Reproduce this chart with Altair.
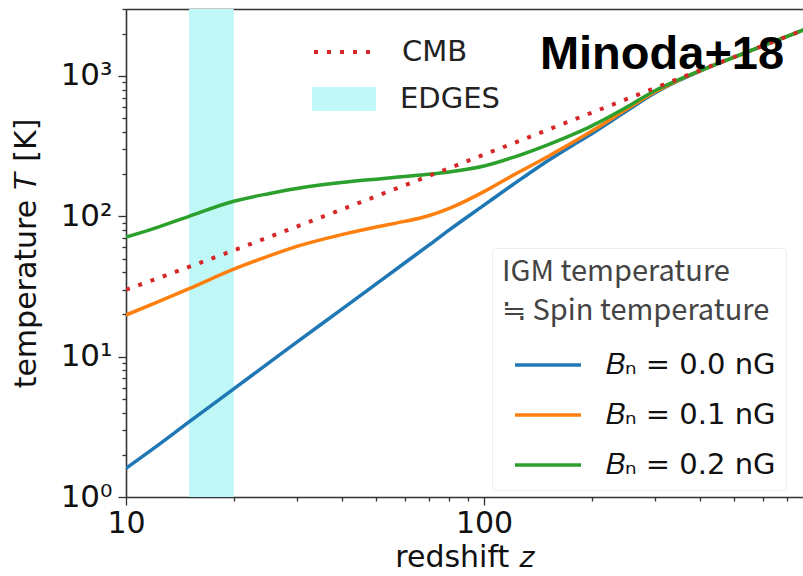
import altair as alt
import pandas as pd

# ---- data ----
z = [10, 12, 15, 20, 25, 30, 40, 50, 60, 70, 80, 100, 120, 150, 180, 200, 250, 300, 350, 400, 500, 600, 700, 800]
t_cmb = [30.0, 35.4, 43.6, 57.2, 70.9, 84.5, 111.7, 139.0, 166.2, 193.5, 220.7, 275.2, 329.7, 411.5,
         493.2, 547.7, 684.0, 820.2, 956.5, 1092.7, 1365.2, 1637.7, 1910.2, 2182.7]
t_b00 = [1.6, 2.24, 3.43, 5.9, 9.0, 12.7, 21.7, 33.0, 46.5, 62, 80, 120, 167, 247, 330, 388, 562, 755,
         928, 1080, 1363, 1636, 1908, 2180]
t_b01 = [19.8, 24, 30.5, 42, 52, 61, 74, 84, 92, 101, 114, 150, 195, 265, 345, 405, 578, 768, 935,
         1084, 1363, 1636, 1908, 2180]
t_b02 = [71, 82, 100, 128, 145, 158, 174, 184, 192, 199, 207, 228, 262, 322, 390, 441, 598, 785, 942,
         1088, 1363, 1636, 1908, 2180]
series_labels = ["𝐵ₙ = 0.0 nG", "𝐵ₙ = 0.1 nG", "𝐵ₙ = 0.2 nG"]
series_colors = ["#1f77b4", "#ff7f0e", "#2ca02c"]
edges_z = [15, 20]
x_ticks = [10, 20, 30, 40, 50, 60, 70, 80, 90, 100, 200, 300, 400, 500, 600, 700]
y_ticks = [1, 2, 3, 4, 5, 6, 7, 8, 9, 10, 20, 30, 40, 50, 60, 70, 80, 90,
           100, 200, 300, 400, 500, 600, 700, 800, 900, 1000, 2000, 3000]

rows = []
for lab, vals in zip(series_labels, [t_b00, t_b01, t_b02]):
    for zz, tt in zip(z, vals):
        rows.append({"z": zz, "T": tt, "series": lab})
df = pd.DataFrame(rows)
cmb_df = pd.DataFrame({"z": z, "T": t_cmb, "cmb": ["CMB"] * len(z)})
edges_df = pd.DataFrame({"z0": [edges_z[0]], "z1": [edges_z[1]], "band": ["EDGES"]})
ann_df = pd.DataFrame({"t": ["Minoda+18"]})

xscale = alt.Scale(type="log", domain=[10, 778], nice=False)
yscale = alt.Scale(type="log", domain=[1, 3000], nice=False)

FONT = "DejaVu Sans"
major_tick = {"condition": {"test": "indexof([1, 10, 100, 1000], datum.value) >= 0", "value": 8}, "value": 4}

x_axis = alt.Axis(values=x_ticks,
                  labelExpr="datum.value == 10 ? '10' : datum.value == 100 ? '100' : ''",
                  tickSize=major_tick, tickColor="#333", tickWidth=1.3,
                  domainColor="#333", domainWidth=1.6, grid=False,
                  labelFont=FONT, labelFontSize=30, labelColor="#111", labelPadding=3,
                  labelOverlap=False, labelFlush=False,
                  title="redshift 𝑧", titleFont=FONT, titleFontSize=30, titleFontWeight="normal",
                  titleColor="#111", titlePadding=4)
x_top = alt.Axis(orient="top", labels=False, ticks=False, grid=False, title=None,
                 domainColor="#333", domainWidth=1.6)
y_axis = alt.Axis(values=y_ticks,
                  labelExpr="datum.value == 1 ? '10⁰' : datum.value == 10 ? '10¹' : datum.value == 100 ? '10²' : datum.value == 1000 ? '10³' : ''",
                  tickSize=major_tick, tickColor="#333", tickWidth=1.3,
                  domainColor="#333", domainWidth=1.6, grid=False,
                  labelFont=FONT, labelFontSize=31, labelColor="#111", labelPadding=6,
                  labelOverlap=False,
                  title="temperature 𝑇 [K]", titleFont=FONT, titleFontSize=30, titleFontWeight="normal",
                  titleColor="#111", titlePadding=19)

edges = alt.Chart(edges_df).mark_rect(opacity=1).encode(
    x=alt.X("z0:Q", scale=xscale, axis=x_axis),
    x2="z1:Q",
    fill=alt.Fill("band:N", scale=alt.Scale(domain=["EDGES"], range=["#c0f8f8"]),
                  legend=alt.Legend(orient="none", legendX=186, legendY=58, title=None,
                                    symbolType="M-1,-0.375H1V0.375H-1Z", symbolSize=4096,
                                    symbolStrokeWidth=0, symbolOpacity=1,
                                    labelFont=FONT, labelFontSize=29, labelColor="#222",
                                    labelOffset=24)),
)

lines = alt.Chart(df).mark_line(strokeWidth=3.5, interpolate="monotone", clip=True).encode(
    x=alt.X("z:Q", scale=xscale, axis=None),
    y=alt.Y("T:Q", scale=yscale, axis=y_axis),
    color=alt.Color("series:N", scale=alt.Scale(domain=series_labels, range=series_colors),
                    legend=alt.Legend(orient="none", legendX=366, legendY=239,
                                      title=["IGM temperature", "≒ Spin temperature"],
                                      titleFont="Noto Sans CJK JP", titleFontSize=29,
                                      titleFontWeight="normal", titleColor="#444",
                                      titleLineHeight=39, titlePadding=4, titleLimit=500,
                                      labelFont=FONT, labelFontSize=29, labelColor="#111",
                                      labelOffset=23, labelLimit=400,
                                      symbolType="stroke", symbolSize=4356,
                                      symbolStrokeWidth=3.5, symbolOffset=11, rowPadding=0,
                                      padding=10, fillColor="white", strokeColor="#eeeeee",
                                      cornerRadius=3)),
    detail="series:N",
)

cmb = alt.Chart(cmb_df).mark_line(strokeWidth=4, color="#d62728", strokeCap="butt", clip=True).encode(
    x=alt.X("z:Q", scale=xscale, axis=x_top),
    y=alt.Y("T:Q", scale=yscale, axis=y_axis),
    strokeDash=alt.StrokeDash("cmb:N", scale=alt.Scale(domain=["CMB"], range=[[4, 9]]),
                              legend=alt.Legend(orient="none", legendX=186, legendY=11, title=None,
                                                symbolType="stroke", symbolSize=3600,
                                                symbolStrokeColor="#d62728", symbolStrokeWidth=4,
                                                labelFont=FONT, labelFontSize=29,
                                                labelColor="#222", labelOffset=26)),
)

ann = alt.Chart(ann_df).mark_text(font="Liberation Sans", fontWeight="bold", fontSize=47,
                                  color="black", align="center", baseline="middle").encode(
    x=alt.value(536), y=alt.value(46), text="t:N")

chart = alt.layer(edges, lines, cmb, ann).resolve_axis(x="independent").properties(
    width=677, height=488,
    padding={"left": 126, "top": 9, "right": 0, "bottom": 79},
    autosize=alt.AutoSizeParams(type="none"),
).configure_view(stroke=None).configure(background="white")

chart.save("out.html", embed_options={"renderer": "svg", "actions": False})
